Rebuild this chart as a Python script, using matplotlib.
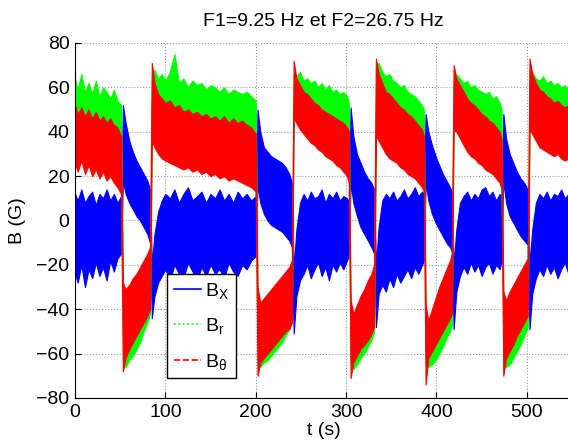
import matplotlib.pyplot as plt
from matplotlib.lines import Line2D

plt.rcParams['font.family'] = ['Liberation Sans', 'DejaVu Sans']
plt.rcParams['mathtext.fontset'] = 'custom'
plt.rcParams['mathtext.rm'] = 'Liberation Sans'
plt.rcParams['mathtext.it'] = 'Liberation Sans:italic'

# time knots (s), one block per switching phase
t = ([0, 3, 7, 11, 15, 19, 23, 27, 31, 35, 39, 43, 47, 51]
     + [53, 56, 60, 64, 68, 72, 76, 80, 83]
     + [85, 88, 92, 96, 100, 105, 110, 115, 120, 125, 130, 135, 140, 145,
        150, 155, 160, 165, 170, 175, 180, 185, 190, 195, 200]
     + [202, 205, 209, 213, 217, 221, 225, 229, 233, 237, 240]
     + [242, 245, 249, 253, 257, 261, 265, 269, 273, 277, 281, 285, 289,
        293, 297, 301, 303]
     + [305, 308, 312, 316, 320, 324, 328, 331]
     + [333, 336, 340, 344, 348, 352, 356, 360, 364, 368, 372, 376, 380,
        384, 386]
     + [388, 391, 395, 399, 403, 407, 411, 415, 417]
     + [419, 422, 426, 430, 434, 438, 442, 446, 450, 454, 458, 462, 466,
        470, 472]
     + [474, 477, 481, 485, 489, 493, 497, 501]
     + [503, 506, 510, 514, 518, 522, 526, 530, 534, 538, 542, 546, 550])

# B_X envelope (G)
bx_hi = ([12, 9, 14, 8, 11, 13, 7, 12, 10, 14, 9, 12, 8, 11]
         + [52, 44, 36, 31, 27, 24, 21, 18, 14]
         + [-20, -6, 4, 9, 12, 10, 14, 8, 12, 15, 9, 11, 13, 8, 12, 10, 14,
            9, 12, 8, 13, 10, 12, 9, 11]
         + [50, 40, 33, 31, 29, 28, 27, 26, 24, 21, 17]
         + [-22, -4, 8, 12, 9, 13, 10, 11, 14, 8, 12, 10, 13, 9, 11, 10, 8]
         + [51, 38, 30, 26, 22, 19, 17, 14]
         + [-20, -3, 9, 12, 10, 13, 9, 11, 14, 10, 12, 15, 11, 13, 12]
         + [48, 40, 34, 29, 25, 21, 18, 15, 13]
         + [-20, -4, 8, 11, 13, 9, 12, 10, 14, 15, 11, 13, 9, 12, 10]
         + [48, 37, 30, 26, 22, 19, 17, 14]
         + [-20, -4, 8, 12, 10, 13, 9, 12, 11, 14, 10, 12, 11])
bx_lo = ([-24, -28, -20, -30, -22, -26, -19, -25, -21, -27, -18, -23, -17, -15]
         + [18, 12, 8, 5, 2, 0, -3, -6, -10]
         + [-44, -34, -28, -25, -22, -27, -20, -24, -26, -19, -23, -27, -21,
            -25, -20, -24, -22, -26, -19, -23, -25, -20, -22, -18, -16]
         + [16, 8, 3, 0, -2, -3, -4, -5, -7, -9, -12]
         + [-51, -34, -27, -24, -20, -26, -22, -19, -25, -21, -27, -20, -23,
            -19, -22, -18, -16]
         + [17, 8, 2, -3, -6, -9, -12, -15]
         + [-48, -33, -29, -32, -26, -30, -24, -28, -25, -22, -26, -21, -24,
            -20, -18]
         + [17, 9, 3, -1, -4, -7, -10, -12, -14]
         + [-49, -32, -25, -21, -24, -19, -23, -20, -25, -21, -19, -24, -20,
            -22, -18]
         + [18, 8, 2, -1, -4, -7, -9, -11]
         + [-49, -33, -26, -22, -25, -20, -24, -21, -26, -22, -19, -24, -21])

# B_r envelope (G)
br_hi = ([64, 59, 66, 58, 62, 57, 63, 56, 60, 58, 55, 59, 54, 52]
         + [-32, -35, -33, -30, -28, -25, -22, -19, -16]
         + [66, 68, 64, 66, 63, 67, 75, 62, 64, 60, 63, 61, 62, 59, 61, 60,
            58, 60, 57, 59, 58, 57, 58, 56, 54]
         + [-34, -40, -38, -36, -34, -32, -30, -28, -26, -24, -22]
         + [66, 65, 67, 63, 64, 62, 63, 60, 62, 59, 61, 58, 59, 57, 58, 56, 53]
         + [-40, -45, -41, -37, -34, -30, -27, -23]
         + [70, 71, 67, 65, 66, 63, 62, 60, 61, 58, 57, 56, 54, 52, 50]
         + [-42, -48, -43, -38, -33, -29, -25, -21, -18]
         + [64, 66, 64, 62, 63, 60, 61, 59, 58, 57, 58, 55, 56, 53, 50]
         + [-36, -40, -36, -33, -30, -27, -24, -21]
         + [68, 67, 64, 63, 65, 62, 63, 61, 62, 60, 61, 59, 60])
br_lo = ([30, 28, 31, 27, 29, 27, 28, 26, 27, 25, 24, 23, 21, 18]
         + [-64, -66, -63, -61, -58, -55, -50, -46, -42]
         + [40, 37, 34, 32, 31, 30, 29, 28, 27, 28, 26, 27, 25, 26, 24, 25,
            23, 24, 22, 23, 22, 21, 20, 19, 17]
         + [-62, -66, -64, -63, -61, -59, -57, -55, -52, -49, -45]
         + [50, 48, 45, 43, 41, 39, 38, 36, 35, 33, 32, 31, 29, 28, 26, 24, 21]
         + [-64, -67, -65, -62, -60, -57, -54, -50]
         + [42, 40, 37, 34, 32, 31, 30, 28, 27, 25, 24, 23, 21, 19, 17]
         + [-62, -66, -65, -63, -60, -57, -53, -50, -47]
         + [45, 44, 41, 38, 35, 33, 32, 30, 29, 27, 26, 25, 23, 21, 18]
         + [-62, -66, -65, -62, -59, -56, -52, -48]
         + [45, 43, 40, 37, 36, 35, 34, 33, 34, 32, 31, 32, 30])

# B_theta envelope (G)
bt_hi = ([52, 48, 51, 47, 50, 46, 49, 45, 47, 44, 46, 43, 42, 38]
         + [-28, -31, -29, -26, -24, -21, -18, -15, -12]
         + [71, 62, 57, 55, 53, 54, 51, 52, 49, 50, 48, 49, 47, 48, 46, 47,
            45, 47, 44, 46, 44, 45, 43, 42, 39]
         + [-30, -37, -35, -33, -31, -29, -27, -25, -23, -21, -18]
         + [72, 64, 61, 58, 57, 55, 53, 52, 50, 49, 48, 47, 46, 45, 44, 42, 40]
         + [-36, -42, -38, -34, -31, -27, -24, -20]
         + [73, 66, 62, 58, 57, 55, 53, 51, 50, 48, 47, 45, 43, 41, 38]
         + [-38, -45, -40, -35, -30, -26, -22, -18, -15]
         + [70, 64, 61, 58, 55, 53, 52, 50, 48, 47, 45, 44, 42, 40, 37]
         + [-32, -36, -32, -29, -26, -23, -20, -17]
         + [73, 66, 62, 59, 58, 56, 55, 53, 54, 52, 51, 52, 50])
bt_lo = ([26, 22, 27, 21, 25, 20, 23, 19, 22, 18, 20, 17, 15, 12]
         + [-68, -62, -58, -55, -52, -49, -46, -43, -40]
         + [36, 33, 30, 28, 27, 26, 25, 24, 23, 24, 22, 23, 21, 22, 20, 21,
            19, 20, 18, 19, 18, 17, 16, 15, 13]
         + [-70, -64, -62, -60, -58, -56, -54, -52, -50, -49, -46]
         + [46, 44, 41, 39, 37, 35, 34, 32, 31, 29, 28, 27, 25, 24, 22, 20, 17]
         + [-71, -64, -61, -58, -56, -54, -51, -48]
         + [38, 36, 33, 30, 28, 27, 26, 24, 23, 21, 20, 19, 17, 15, 13]
         + [-74, -62, -59, -56, -53, -50, -47, -44, -42]
         + [41, 40, 37, 34, 31, 29, 28, 26, 25, 23, 22, 21, 19, 17, 14]
         + [-70, -62, -59, -56, -52, -49, -46, -43]
         + [41, 39, 36, 33, 32, 31, 30, 29, 30, 28, 27, 28, 26])

fig = plt.figure(figsize=(5.68, 4.41), dpi=100)
ax = fig.add_axes([75 / 568, 43 / 441, 497 / 568, 355 / 441])

ax.fill_between(t, bx_lo, bx_hi, color='#0000ff', lw=0.8)
ax.fill_between(t, br_lo, br_hi, color='#00ff00', lw=0.8)
ax.fill_between(t, bt_lo, bt_hi, color='#ff0000', lw=0.8)

ax.set_xlim(0, 550)
ax.set_ylim(-80, 80)
ax.set_xticks(range(0, 501, 100))
ax.set_yticks(range(-80, 81, 20))
ax.tick_params(direction='in', labelsize=14, length=4, pad=4)
ax.grid(True, linestyle=':', color='#999999', linewidth=0.8)
ax.set_axisbelow(True)
ax.spines['top'].set_visible(False)
ax.spines['right'].set_visible(False)

ax.set_title('F1=9.25 Hz et F2=26.75 Hz', fontsize=14, pad=12)
ax.set_xlabel('t (s)', fontsize=14, labelpad=1)
ax.set_ylabel('B (G)', fontsize=14, labelpad=7)

handles = [Line2D([], [], color='#0000ff', lw=1.2, ls='-'),
           Line2D([], [], color='#00ff00', lw=1.2, ls=':'),
           Line2D([], [], color='#ff0000', lw=1.2, ls='--')]
labels = [r'B$_\mathrm{X}$', r'B$_\mathrm{r}$', r'B$_\mathrm{θ}$']
leg = ax.legend(handles, labels, loc='lower left',
                bbox_to_anchor=(0.185, 0.055), fontsize=14, frameon=True,
                fancybox=False, edgecolor='black', framealpha=1,
                handlelength=1.4, borderpad=0.35, labelspacing=0.8,
                handletextpad=0.2, borderaxespad=0)
leg.get_frame().set_linewidth(1.0)

fig.savefig('out.png', dpi=100)
